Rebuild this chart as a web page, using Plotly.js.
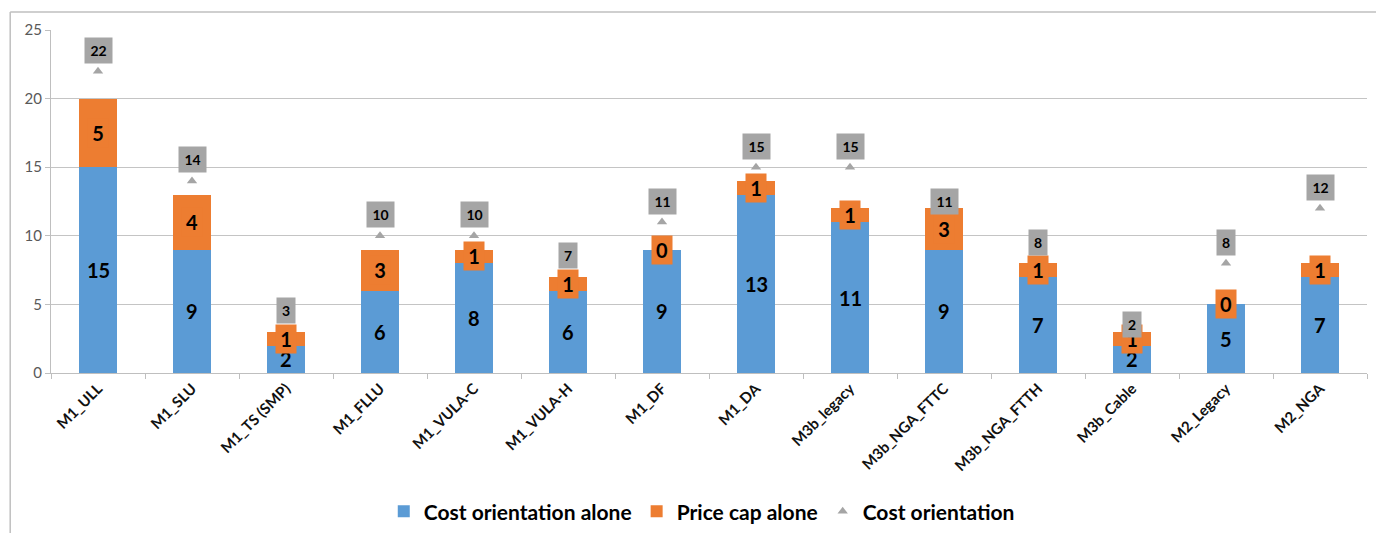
<!DOCTYPE html>
<html>
<head>
<meta charset="utf-8">
<script src="https://cdn.plot.ly/plotly-3.0.1.min.js"></script>
<style>html,body{margin:0;padding:0;background:#fff;}#chart{width:1376px;height:533px;}</style>
</head>
<body>
<div id="chart"></div>
<script>
const categories = ["M1_ULL","M1_SLU","M1_TS (SMP)","M1_FLLU","M1_VULA-C","M1_VULA-H","M1_DF","M1_DA","M3b_legacy","M3b_NGA_FTTC","M3b_NGA_FTTH","M3b_Cable","M2_Legacy","M2_NGA"];
const costOrientationAlone = [15,9,2,6,8,6,9,13,11,9,7,2,5,7];
const priceCapAlone = [5,4,1,3,1,1,0,1,1,3,1,1,0,1];
const costOrientation = [22,14,3,10,10,7,11,15,15,11,8,2,8,12];

const BLUE = "#5B9BD5", ORANGE = "#ED7D31", GRAY = "#A5A5A5";
const FONT = "Lato, 'Open Sans', sans-serif";

const traces = [
  {type:"bar", name:"Cost orientation alone", x:categories, y:costOrientationAlone,
   marker:{color:BLUE}, hoverinfo:"skip"},
  {type:"bar", name:"Price cap alone", x:categories, y:priceCapAlone,
   marker:{color:ORANGE}, hoverinfo:"skip"},
  {type:"scatter", mode:"markers", name:"Cost orientation", x:categories, y:costOrientation,
   marker:{symbol:"triangle-up", size:9, color:GRAY}, hoverinfo:"skip"}
];

const annotations = [];
categories.forEach((c,i)=>{
  annotations.push({x:c, y:costOrientationAlone[i]/2, text:String(costOrientationAlone[i]),
    showarrow:false, font:{family:FONT, size:20, color:"#000", weight:"bold"}});
});
categories.forEach((c,i)=>{
  annotations.push({x:c, y:costOrientationAlone[i]+priceCapAlone[i]/2, text:String(priceCapAlone[i]),
    showarrow:false, bgcolor:ORANGE, width:14, height:22, borderpad:3,
    font:{family:FONT, size:20, color:"#000", weight:"bold"}});
});
categories.forEach((c,i)=>{
  const s = String(costOrientation[i]);
  annotations.push({x:c, y:costOrientation[i], yshift:21, text:s,
    showarrow:false, bgcolor:GRAY, width:s.length===1?12:21, height:19, borderpad:3,
    font:{family:FONT, size:14, color:"#000", weight:"bold"}});
});

const layout = {
  width:1376, height:533,
  margin:{l:51, r:9, t:30, b:160},
  paper_bgcolor:"#fff", plot_bgcolor:"#fff",
  barmode:"stack", bargap:0.6,
  showlegend:true,
  legend:{orientation:"h", traceorder:"normal", xref:"paper", x:0.4945, xanchor:"center",
    yref:"container", y:0.04, yanchor:"middle",
    font:{family:FONT, size:21, color:"#000", weight:"bold"}, itemwidth:30,
    tracegroupgap:0},
  xaxis:{type:"category", range:[-0.5, 13.5], autorange:false, showline:true, linecolor:"#bfbfbf", linewidth:1,
    ticks:"outside", tickson:"boundaries", ticklen:5, tickcolor:"#bfbfbf",
    tickangle:-45, tickfont:{family:FONT, size:15, color:"#111", weight:"bold"},
    showgrid:false, fixedrange:true, automargin:false},
  yaxis:{range:[0,25], dtick:5, showline:true, linecolor:"#bfbfbf", linewidth:1,
    ticks:"outside", ticklen:5, tickcolor:"#bfbfbf",
    gridcolor:"#c4c4c4", gridwidth:1, zeroline:false, automargin:false,
    tickfont:{family:FONT, size:15, color:"#595959"}, fixedrange:true},
  annotations:annotations,
  shapes:[
    {type:"line", xref:"paper", yref:"paper", x0:-0.031, x1:1.01, y0:1.0525, y1:1.0525,
     line:{color:"#bfbfbf", width:1.5}},
    {type:"line", xref:"paper", yref:"paper", x0:-0.031, x1:-0.031, y0:1.0525, y1:-0.47,
     line:{color:"#bfbfbf", width:1.5}}
  ]
};

Plotly.newPlot("chart", traces, layout, {displayModeBar:false, staticPlot:true});
</script>
</body>
</html>
